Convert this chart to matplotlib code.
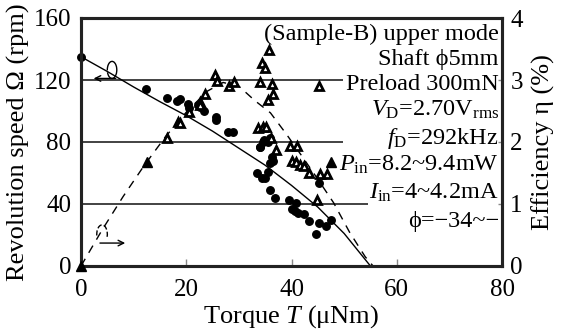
import matplotlib
matplotlib.use("Agg")
import matplotlib.pyplot as plt
from matplotlib.patches import Arc

plt.rcParams['font.family'] = ['Liberation Serif', 'DejaVu Serif']
plt.rcParams['mathtext.fontset'] = 'custom'
plt.rcParams['mathtext.rm'] = 'Liberation Serif'
plt.rcParams['mathtext.it'] = 'Liberation Serif:italic'

# ---- data ----
speed_T = [0, 12.4, 16.4, 18.2, 18.8, 20.4, 20.6, 22.3, 22.7, 23.4, 25.7, 25.7,
           28.0, 28.9, 34.0, 34.6, 35.9, 34.8, 35.6, 34.1, 36.2, 36.4, 35.9,
           35.6, 33.4, 34.3, 35.0, 35.9, 36.9, 39.6, 40.9, 40.0, 40.7, 41.2,
           42.4, 43.3, 45.3, 46.6, 47.6, 44.7, 45.3]
speed_rpm = [135, 114, 108.6, 106.6, 107.5, 104.5, 101.7, 103.9, 102.4, 100, 96.3, 94.2,
             86.6, 86.6, 77, 80.2, 82.4, 81.3, 80.2, 76.6, 70.5, 67.9, 66.3,
             60.8, 59.8, 56.6, 56.6, 49, 43.7, 42.6, 40.5, 36.8, 35.5, 34,
             33.5, 29.2, 27.9, 25.8, 29.7, 20.5, 53.3]

eff_T = [16.4, 18.5, 18.8, 20.6, 22.7, 22.6, 23.5, 25.5, 25.8, 28.1, 29.1,
         35.8, 34.3, 35.0, 34.1, 36.2, 36.4, 35.6, 45.3, 33.7, 34.5, 35.2,
         36.1, 37.0, 39.7, 41.0, 40.0, 40.9, 41.6, 42.4, 43.4, 45.5, 46.7, 44.8]
eff_pct = [2.06, 2.33, 2.31, 2.49, 2.65, 2.60, 2.78, 3.08, 2.99, 2.90, 2.96,
           3.49, 3.27, 3.19, 2.97, 2.94, 2.77, 2.68, 2.90, 2.22, 2.24, 2.25,
           2.06, 1.87, 1.94, 1.94, 1.70, 1.67, 1.63, 1.61, 1.50, 1.48, 1.48, 1.06]

eff_fill_T = [0, 12.5, 47.6]
eff_fill_pct = [0, 1.68, 1.67]

fit_speed_T = [0, 5, 10, 15, 20, 25, 30, 35, 40, 45, 50, 55]
fit_speed_rpm = [135, 125.5, 115.5, 106, 97, 87, 76, 65, 52, 38, 21, 0]

fit_eff_T = [0, 4, 8, 12, 16, 20, 24, 27, 30, 33, 36, 39, 42, 45, 48, 51, 54, 55.5]
fit_eff_pct = [0, 0.58, 1.12, 1.62, 2.08, 2.48, 2.82, 2.96, 2.90, 2.67, 2.47, 2.13,
               1.77, 1.40, 1.02, 0.55, 0.15, 0]

x_ticks = [0, 20, 40, 60, 80]
y_ticks = [0, 40, 80, 120, 160]
y2_ticks = [0, 1, 2, 3, 4]

info_lines = ["(Sample-B) upper mode",
              "Shaft \u03d55mm",
              "Preload 300mN",
              r"$V_{\mathrm{D}}$=2.70V$_{\mathrm{rms}}$",
              r"$f_{\mathrm{D}}$=292kHz",
              r"$P_{\mathrm{in}}$=8.2~9.4mW",
              r"$I_{\mathrm{in}}$=4~4.2mA",
              "\u03d5=−34~−"]
info_y = [145.8, 129.7, 113.5, 96.8, 78.7, 61.3, 43.2, 25.2]

FS_TXT = 17.5
FS_TICK = 18
FS_LAB = 19

fig = plt.figure(figsize=(5.63, 3.34), dpi=100)
ax = fig.add_axes([81/563, 68/334, 421/563, 248/334])
ax.set_xlim(0, 80)
ax.set_ylim(0, 160)
ax2 = ax.twinx()
ax2.set_ylim(0, 4)

for a in (ax, ax2):
    for s in a.spines.values():
        s.set_linewidth(2.2)
        s.set_color('#222222')

# reference lines
ax.hlines([120, 80], 0, 49.8, color='#222222', lw=1.2, zorder=1)
ax.hlines([40], 0, 54.5, color='#222222', lw=1.2, zorder=1)

# curves
ax.plot(fit_speed_T, fit_speed_rpm, color='black', lw=1.0, zorder=2)
ax2.plot(fit_eff_T, fit_eff_pct, color='black', lw=1.0, dashes=(6, 5), zorder=2)

# markers
ax.plot(speed_T, speed_rpm, 'o', color='black', ms=5.4, zorder=3, clip_on=False)
ax2.plot(eff_T, eff_pct, '^', mfc='white', mec='black', mew=2.0, ms=6.3, ls='none', zorder=3)
ax2.plot(eff_fill_T, eff_fill_pct, '^', color='black', ms=6.8, ls='none', zorder=3, clip_on=False)

# rotation-direction symbols
ax.annotate('', xy=(2.4, 121), xytext=(6.6, 121),
            arrowprops=dict(arrowstyle='->', lw=1.0, color='black', shrinkA=0, shrinkB=0))
ax.add_patch(Arc((5.9, 126.5), 1.8, 11, theta1=-120, theta2=200, lw=1.0, color='black'))
ax.annotate('', xy=(8.4, 14.8), xytext=(3.6, 14.8),
            arrowprops=dict(arrowstyle='->', lw=1.0, color='black', shrinkA=0, shrinkB=0))
ax.add_patch(Arc((4.0, 20.5), 2.0, 12, theta1=-60, theta2=240, lw=1.0, color='black', ls='--'))

# info text
for s, yv in zip(info_lines, info_y):
    ax.text(79.4, yv, s, ha='right', va='baseline', fontsize=FS_TXT, zorder=4)

# ticks
ax.set_xticks(x_ticks)
ax.set_yticks(y_ticks)
ax2.set_yticks(y2_ticks)
ax.tick_params(axis='x', direction='in', length=5, width=1, color='#888888',
               labelsize=FS_TICK, pad=9)
ax.tick_params(axis='y', direction='in', length=0, labelsize=FS_TICK, pad=7)
ax2.tick_params(axis='y', direction='in', length=3, width=1, color='#888888',
                labelsize=FS_TICK, pad=6)

ax.set_xlabel(r"Torque $T$ (μNm)", fontsize=FS_LAB, labelpad=2)
ax.set_ylabel("Revolution speed Ω (rpm)", fontsize=FS_LAB, labelpad=3)
ax2.set_ylabel("Efficiency η (%)", fontsize=FS_LAB, labelpad=6)

fig.savefig("out.png", dpi=100)
